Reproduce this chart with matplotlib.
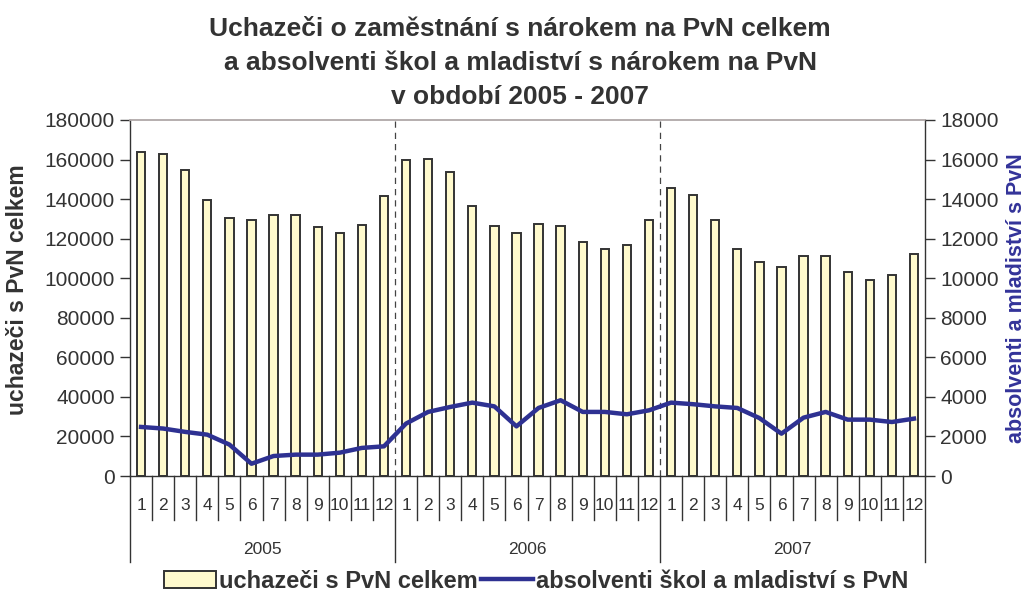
import matplotlib
matplotlib.use("Agg")
import matplotlib.pyplot as plt
import numpy as np
from matplotlib.patches import Patch
from matplotlib.lines import Line2D

plt.rcParams['font.family'] = ['Liberation Sans', 'DejaVu Sans']

years = ["2005", "2006", "2007"]
months = [str(m) for m in range(1, 13)]

uchazeci = [
    163600, 162700, 154600, 139300, 130200, 129200, 132200, 132200, 126100, 123100, 127100, 141500,
    159700, 160500, 153500, 136400, 126300, 123100, 127200, 126300, 118200, 115000, 117000, 129200,
    145400, 142300, 129200, 115000, 108100, 105900, 111000, 111000, 103000, 99000, 101700, 112000,
]
absolventi = [
    2480, 2400, 2230, 2090, 1590, 620, 1010, 1080, 1080, 1180, 1420, 1500,
    2650, 3240, 3490, 3710, 3520, 2510, 3440, 3830, 3240, 3240, 3120, 3320,
    3710, 3630, 3520, 3440, 2930, 2140, 2950, 3240, 2850, 2850, 2730, 2900,
]

title = "Uchazeči o zaměstnání s nárokem na PvN celkem\na absolventi škol a mladiství s nárokem na PvN\nv období 2005 - 2007"
ylabel_left = "uchazeči s PvN celkem"
ylabel_right = "absolventi a mladiství s PvN"
leg_bar = "uchazeči s PvN celkem"
leg_line = "absolventi škol a mladiství s PvN"

TXT = "#333333"
BAR = "#FFFACD"
EDGE = "#333333"
NAVY = "#2E3192"

W, H = 1028, 592
fig = plt.figure(figsize=(W / 100, H / 100), dpi=100)
ax_l, ax_r, ax_t, ax_b = 130, 925, 120, 476
ax = fig.add_axes([ax_l / W, 1 - ax_b / H, (ax_r - ax_l) / W, (ax_b - ax_t) / H])

n = len(uchazeci)
x = np.arange(1, n + 1)
ax.bar(x, uchazeci, width=0.38, color=BAR, edgecolor=EDGE, linewidth=1.4, zorder=2)
ax.set_xlim(0.5, n + 0.5)
ax.set_ylim(0, 180000)
ax.set_yticks(np.arange(0, 180001, 20000))
ax.tick_params(axis='y', direction='out', length=7, width=1, colors=EDGE, labelsize=15, labelcolor=TXT, pad=4)
ax.set_xticks(x)
ax.set_xticklabels([])
ax.tick_params(axis='x', length=0)

for s in ['left', 'right', 'bottom']:
    ax.spines[s].set_color(EDGE)
    ax.spines[s].set_linewidth(1.0)
ax.spines['top'].set_color('#b0a8a8')
ax.spines['top'].set_linewidth(1.3)

# year dividers inside plot
for b in [12.5, 24.5]:
    ax.axvline(b, color='#444444', linestyle=(0, (5, 4)), linewidth=0.9, zorder=1)

ax2 = ax.twinx()
ax2.set_position(ax.get_position())
ax2.plot(x, absolventi, color=NAVY, linewidth=3.2, solid_joinstyle='round', zorder=3)
ax2.set_ylim(0, 18000)
ax2.set_yticks(np.arange(0, 18001, 2000))
ax2.tick_params(axis='y', direction='out', length=7, width=1, colors=EDGE, labelsize=15, labelcolor=TXT, pad=4)
for s in ax2.spines.values():
    s.set_visible(False)

# category axis below
tr = ax.get_xaxis_transform()
axh = ax_b - ax_t
y_month = -44 / axh
y_year = -86 / axh
for i in range(n + 1):
    b = 0.5 + i
    y_end = y_year if i % 12 == 0 else y_month
    ax.add_line(Line2D([b, b], [0, y_end], transform=tr, color=EDGE, linewidth=1.0, clip_on=False))
for i in range(n):
    ax.text(x[i], -29 / axh, months[i % 12], transform=tr, ha='center', va='center',
            fontsize=12.5, color=TXT)
for k, yr in enumerate(years):
    ax.text(6.5 + 12 * k, -73 / axh, yr, transform=tr, ha='center', va='center',
            fontsize=12.5, color=TXT)

fig.text(18 / W, 1 - 290 / H, ylabel_left, rotation=90, ha='center', va='center',
         fontsize=16.5, fontweight='bold', color=TXT)
fig.text(1017 / W, 1 - 298 / H, ylabel_right, rotation=90, ha='center', va='center',
         fontsize=15.5, fontweight='bold', color='#333399')

fig.text(520 / W, 1 - 17 / H, title, ha='center', va='top', fontsize=19,
         fontweight='bold', color=TXT, linespacing=1.52)

handles = [Patch(facecolor=BAR, edgecolor=EDGE, linewidth=1.4),
           Line2D([0], [0], color=NAVY, linewidth=3.2)]
leg = fig.legend(handles, [leg_bar, leg_line], loc='center', bbox_to_anchor=(536 / W, 1 - 581 / H),
                 ncol=2, frameon=False, prop={'size': 17, 'weight': 'bold'},
                 handlelength=2.2, handletextpad=0.12, columnspacing=0.15, borderpad=0)
for t in leg.get_texts():
    t.set_color(TXT)

fig.savefig("out.png", dpi=100)
